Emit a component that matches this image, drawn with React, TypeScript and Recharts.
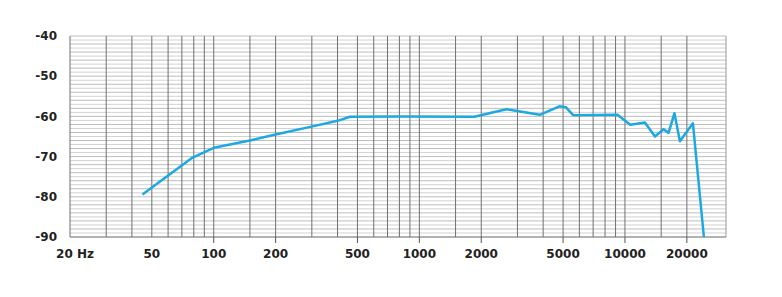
import React from "react";
import { LineChart, Line, XAxis, YAxis, ReferenceLine } from "recharts";

const freqs = [45, 78, 100, 150, 200, 295, 400, 460, 800, 1850, 2650, 3100, 3850, 4800, 5150, 5600, 9200, 10600, 12500, 14000, 15400, 16300, 17400, 18500, 21400, 24200];
const levels = [-79.4, -70.4, -67.8, -66.0, -64.5, -62.6, -61.1, -60.1, -60.0, -60.1, -58.2, -58.8, -59.6, -57.5, -57.7, -59.7, -59.6, -62.1, -61.5, -65.0, -63.2, -64.1, -59.2, -66.2, -61.7, -90];

const xTicks = [20, 50, 100, 200, 500, 1000, 2000, 5000, 10000, 20000];
const yTicks = [-90, -80, -70, -60, -50, -40];
const vGrid = [20, 30, 40, 50, 60, 70, 80, 90, 100, 150, 200, 300, 400, 500, 600, 700, 800, 900, 1000, 1500, 2000, 3000, 4000, 5000, 6000, 7000, 8000, 9000, 10000, 15000, 20000, 31000];
const hGrid: number[] = [];
for (let v = -89; v <= -40; v++) hGrid.push(v);

const data = freqs.map((f, i) => ({ f, db: levels[i] }));

const FONT = "'DejaVu Sans', sans-serif";

const XTick = (props: any) => {
  const { x, y, payload } = props;
  const v = payload.value;
  const label = v === 20 ? "20 Hz" : String(v);
  return (
    <g>
      {v >= 100 && <line x1={x} x2={x} y1={y - 8} y2={y - 2} stroke="#555" strokeWidth={1} />}
      <text x={v === 20 ? x + 5 : x} y={y + 13} textAnchor="middle" fontFamily={FONT} fontWeight="bold" fontSize={12} fill="#222">
        {label}
      </text>
    </g>
  );
};

export default function App() {
  return (
    <LineChart width={774} height={289} data={data} margin={{ top: 28, right: 56, left: 12, bottom: 30 }}>
      <XAxis
        dataKey="f"
        type="number"
        scale="log"
        domain={[20, 31000]}
        ticks={xTicks}
        allowDataOverflow
        axisLine={false}
        tickLine={false}
        tickSize={6}
        tickMargin={2}
        height={30}
        tick={<XTick />}
        interval={0}
      />
      <YAxis
        type="number"
        domain={[-90, -40]}
        ticks={yTicks}
        axisLine={false}
        tickLine={false}
        tickSize={6}
        tickMargin={7}
        width={50}
        interval={0}
        tick={{ fontFamily: FONT, fontWeight: "bold", fontSize: 12, fill: "#222" }}
      />
      {hGrid.map((v) => (
        <ReferenceLine key={"h" + v} y={v} stroke={v % 2 === 0 ? "#bdbdbd" : "#d2d2d2"} strokeWidth={1} />
      ))}
      <ReferenceLine y={-90} stroke="#666" strokeWidth={1.2} />
      {vGrid.map((v) => (
        <ReferenceLine key={"v" + v} x={v} stroke={v === 31000 ? "#999" : "#707070"} strokeWidth={1} />
      ))}
      <Line
        type="linear"
        dataKey="db"
        stroke="#1ea8e2"
        strokeWidth={2.5}
        dot={false}
        isAnimationActive={false}
        strokeLinejoin="round"
      />
    </LineChart>
  );
}
